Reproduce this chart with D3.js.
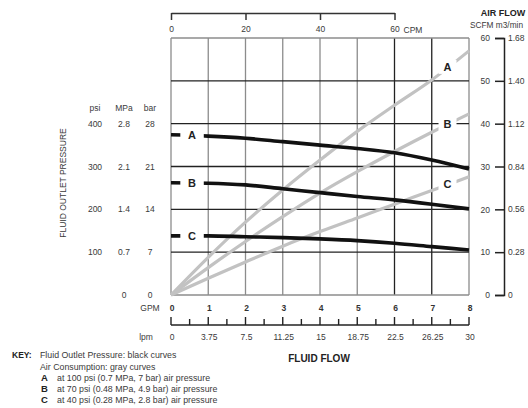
<!DOCTYPE html>
<html>
<head>
<meta charset="utf-8">
<script src="https://cdn.jsdelivr.net/npm/d3@7"></script>
<style>
body { margin: 0; background: #fff; }
svg { font-family: "Liberation Sans", Arial, sans-serif; }
</style>
</head>
<body>
<div></div>
<script>
var width = 528;
var height = 408;

// data
var gpm = [0, 1, 2, 3, 4, 5, 6, 7, 8];
var lpmLabels = ["0", "3.75", "7.5", "11.25", "15", "18.75", "22.5", "26.25", "30"];
var cpmTicks = [0, 20, 40, 60];
var psiTicks = [100, 200, 300, 400];
var mpaTicks = ["0", "0.7", "1.4", "2.1", "2.8"];
var barTicks = ["0", "7", "14", "21", "28"];
var scfmTicks = [0, 10, 20, 30, 40, 50, 60];
var m3Ticks = ["0", "0.28", "0.56", "0.84", "1.12", "1.40", "1.68"];

// fluid outlet pressure (psi), black curves
var pressA = [374, 371, 366, 358, 350, 342, 332, 315, 294];
var pressB = [262, 261, 257, 248, 239, 230, 222, 212, 201];
var pressC = [138, 138, 136, 134, 131, 127, 121, 113, 105];

// air consumption (SCFM), gray curves
var airA = [0, 8.8, 17, 24.5, 31.5, 38.2, 44.3, 50.2, 57];
var airB = [0, 6.4, 12.5, 18.3, 23.8, 28.8, 33.5, 38, 42.3];
var airC = [0, 3.9, 7.7, 11.4, 14.8, 18, 21.2, 24.4, 27.6];

var curveNames = ["A", "B", "C"];

var svg = d3.select("div")
	.append("svg")
	.attr("width", width)
	.attr("height", height);

var x = d3.scaleLinear().domain([0, 8]).range([171, 469]);
var y = d3.scaleLinear().domain([0, 600]).range([295, 38]);
var yAir = d3.scaleLinear().domain([0, 60]).range([295, 38]);
var cpm = d3.scaleLinear().domain([0, 60]).range([x(0), x(6)]);
var lpm = d3.scaleLinear().domain([0, 30]).range([x(0), x(8)]);

var textColor = "#3a3a3a";

// grid
var grid = svg.append("g");
grid.selectAll(".vgrid")
	.data(gpm)
	.enter()
	.append("line")
	.attr("x1", d => x(d))
	.attr("x2", d => x(d))
	.attr("y1", y(600))
	.attr("y2", y(0))
	.attr("stroke", d => (d == 6 || d == 7) ? "#222" : "#8c8c8c")
	.attr("stroke-width", 1.3);

grid.selectAll(".hgrid")
	.data(d3.range(0, 601, 100))
	.enter()
	.append("line")
	.attr("x1", x(0))
	.attr("x2", x(8))
	.attr("y1", d => y(d))
	.attr("y2", d => y(d))
	.attr("stroke", d => (d == 0 || d == 600) ? "#8c8c8c" : "#222")
	.attr("stroke-width", 1.3);

// gray curves
var airLine = d3.line()
	.x((d, i) => x(gpm[i]))
	.y(d => yAir(d))
	.curve(d3.curveMonotoneX);

var airData = [airA, airB, airC];
svg.append("g")
	.selectAll("path")
	.data(airData)
	.enter()
	.append("path")
	.attr("d", d => airLine(d))
	.attr("fill", "none")
	.attr("stroke", "#c2c2c2")
	.attr("stroke-width", 3.2);

// black curves
var pressLine = d3.line()
	.x((d, i) => x(gpm[i]))
	.y(d => y(d))
	.curve(d3.curveMonotoneX);

var pressData = [pressA, pressB, pressC];
svg.append("g")
	.selectAll("path")
	.data(pressData)
	.enter()
	.append("path")
	.attr("d", d => pressLine(d))
	.attr("fill", "none")
	.attr("stroke", "#111")
	.attr("stroke-width", 3.6);

// labels on black curves (left)
var pressLabels = svg.append("g");
pressData.forEach((d, i) => {
	var ly = y(d[0]);
	pressLabels.append("rect")
		.attr("x", x(0.25))
		.attr("y", ly - 5)
		.attr("width", x(0.88) - x(0.25))
		.attr("height", 10)
		.attr("fill", "#fff");
	pressLabels.append("text")
		.attr("x", x(0.56))
		.attr("y", ly + 4)
		.attr("text-anchor", "middle")
		.attr("font-size", 11)
		.attr("font-weight", "bold")
		.attr("fill", "#222")
		.text(curveNames[i]);
});

// labels on gray curves (right)
var airLabels = svg.append("g");
airData.forEach((d, i) => {
	var pos = 7.45;
	var ly = yAir(d3.scaleLinear().domain(gpm).range(d)(pos));
	airLabels.append("rect")
		.attr("x", x(pos) - 10)
		.attr("y", ly - 7)
		.attr("width", 18)
		.attr("height", 14)
		.attr("fill", "#fff");
	airLabels.append("text")
		.attr("x", x(pos) - 1)
		.attr("y", ly + 4)
		.attr("text-anchor", "middle")
		.attr("font-size", 11)
		.attr("font-weight", "bold")
		.attr("fill", "#222")
		.text(curveNames[i]);
});

// top CPM axis
var topAxis = svg.append("g")
	.attr("transform", "translate(0,13)")
	.call(d3.axisBottom(cpm).tickValues(cpmTicks).tickSize(7).tickSizeOuter(0).tickPadding(6));
topAxis.select(".domain").attr("stroke", "#333").attr("stroke-width", 1.3);
topAxis.selectAll(".tick line").attr("stroke", "#333").attr("stroke-width", 1.5);
topAxis.selectAll("text").attr("font-size", 8.5).attr("fill", textColor).attr("font-family", null);
svg.append("text")
	.attr("x", cpm(60) + 9)
	.attr("y", 32.5)
	.attr("font-size", 8.5)
	.attr("fill", textColor)
	.text("CPM");

// right air flow axis
var rightAxis = svg.append("g")
	.attr("transform", "translate(504,0)")
	.call(d3.axisLeft(yAir).tickValues(scfmTicks).tickSize(9).tickPadding(5));
rightAxis.select(".domain").attr("stroke", "#222").attr("stroke-width", 1.5);
rightAxis.selectAll(".tick line").attr("stroke", "#222").attr("stroke-width", 1.5);
rightAxis.selectAll("text").attr("font-size", 8.5).attr("fill", textColor).attr("font-family", null);

svg.append("g")
	.selectAll("text")
	.data(m3Ticks)
	.enter()
	.append("text")
	.attr("x", 508)
	.attr("y", (d, i) => yAir(scfmTicks[i]) + 3)
	.attr("font-size", 8.5)
	.attr("fill", textColor)
	.text(d => d);

svg.append("text")
	.attr("x", 503)
	.attr("y", 16)
	.attr("text-anchor", "middle")
	.attr("font-size", 9)
	.attr("font-weight", "bold")
	.attr("fill", "#222")
	.text("AIR FLOW");
svg.append("text")
	.attr("x", 470)
	.attr("y", 28)
	.attr("font-size", 8.3)
	.attr("fill", textColor)
	.text("SCFM m3/min");

// left pressure labels
var leftCols = [95, 124, 150];
var leftHead = ["psi", "MPa", "bar"];
svg.append("g")
	.selectAll("text")
	.data(leftHead)
	.enter()
	.append("text")
	.attr("x", (d, i) => leftCols[i])
	.attr("y", 111)
	.attr("text-anchor", "middle")
	.attr("font-size", 8.5)
	.attr("fill", textColor)
	.text(d => d);

svg.append("g")
	.selectAll("text")
	.data(psiTicks)
	.enter()
	.append("text")
	.attr("x", leftCols[0])
	.attr("y", d => y(d) + 3)
	.attr("text-anchor", "middle")
	.attr("font-size", 8.5)
	.attr("fill", textColor)
	.text(d => d);

svg.append("g")
	.selectAll("text")
	.data(mpaTicks)
	.enter()
	.append("text")
	.attr("x", leftCols[1])
	.attr("y", (d, i) => y(i * 100) + 3)
	.attr("text-anchor", "middle")
	.attr("font-size", 8.5)
	.attr("fill", textColor)
	.text(d => d);

svg.append("g")
	.selectAll("text")
	.data(barTicks)
	.enter()
	.append("text")
	.attr("x", leftCols[2])
	.attr("y", (d, i) => y(i * 100) + 3)
	.attr("text-anchor", "middle")
	.attr("font-size", 8.5)
	.attr("fill", textColor)
	.text(d => d);

svg.append("text")
	.attr("transform", "translate(66,183) rotate(-90)")
	.attr("text-anchor", "middle")
	.attr("font-size", 8.5)
	.attr("fill", textColor)
	.text("FLUID OUTLET PRESSURE");

// GPM labels under plot
svg.append("g")
	.selectAll("text")
	.data(gpm)
	.enter()
	.append("text")
	.attr("x", d => x(d) + 1)
	.attr("y", 311)
	.attr("text-anchor", "middle")
	.attr("font-size", 8.5)
	.attr("font-weight", "bold")
	.attr("fill", "#333")
	.text(d => d);
svg.append("text")
	.attr("x", 150)
	.attr("y", 311)
	.attr("text-anchor", "middle")
	.attr("font-size", 8.5)
	.attr("fill", textColor)
	.text("GPM");

// lpm axis
var lpmAxis = svg.append("g");
lpmAxis.append("line")
	.attr("x1", lpm(0))
	.attr("x2", lpm(30))
	.attr("y1", 325)
	.attr("y2", 325)
	.attr("stroke", "#222")
	.attr("stroke-width", 1.5);
lpmAxis.selectAll(".lt")
	.data(d3.range(0, 30.01, 1.875))
	.enter()
	.append("line")
	.attr("x1", d => lpm(d))
	.attr("x2", d => lpm(d))
	.attr("y1", 325)
	.attr("y2", (d, i) => i % 2 == 0 ? 317 : 319)
	.attr("stroke", "#222")
	.attr("stroke-width", 1.4);
lpmAxis.selectAll("text")
	.data(lpmLabels)
	.enter()
	.append("text")
	.attr("x", (d, i) => x(gpm[i]) + 1)
	.attr("y", 340)
	.attr("text-anchor", "middle")
	.attr("font-size", 8.5)
	.attr("fill", textColor)
	.text(d => d);
svg.append("text")
	.attr("x", 146)
	.attr("y", 340)
	.attr("text-anchor", "middle")
	.attr("font-size", 8.5)
	.attr("fill", textColor)
	.text("lpm");

svg.append("text")
	.attr("x", 319)
	.attr("y", 362)
	.attr("text-anchor", "middle")
	.attr("font-size", 10)
	.attr("font-weight", "bold")
	.attr("fill", "#222")
	.text("FLUID FLOW");

// key
var keyLines = [
	"Fluid Outlet Pressure: black curves",
	"Air Consumption: gray curves"
];
var keyItems = [
	"at 100 psi (0.7 MPa, 7 bar) air pressure",
	"at 70 psi (0.48 MPa, 4.9 bar) air pressure",
	"at 40 psi (0.28 MPa, 2.8 bar) air pressure"
];
var key = svg.append("g");
key.append("text")
	.attr("x", 12)
	.attr("y", 358)
	.attr("font-size", 8.5)
	.attr("font-weight", "bold")
	.attr("fill", "#222")
	.text("KEY:");
key.selectAll(".kl")
	.data(keyLines)
	.enter()
	.append("text")
	.attr("x", 40)
	.attr("y", (d, i) => 358 + i * 11.5)
	.attr("font-size", 8.8)
	.attr("fill", textColor)
	.text(d => d);
key.selectAll(".kn")
	.data(curveNames)
	.enter()
	.append("text")
	.attr("x", 41)
	.attr("y", (d, i) => 381 + i * 11)
	.attr("font-size", 9.5)
	.attr("font-weight", "bold")
	.attr("fill", "#222")
	.text(d => d);
key.selectAll(".ki")
	.data(keyItems)
	.enter()
	.append("text")
	.attr("x", 57)
	.attr("y", (d, i) => 381 + i * 11)
	.attr("font-size", 8.8)
	.attr("fill", textColor)
	.text(d => d);
</script>
</body>
</html>
